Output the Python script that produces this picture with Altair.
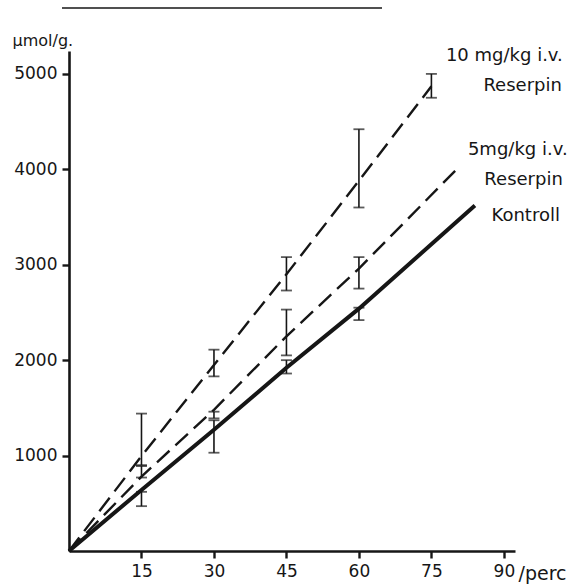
import altair as alt
import pandas as pd

# ---- data ----
ten_line_x = [0, 15, 30, 45, 60, 75]
ten_line_y = [0, 995, 1950, 2900, 3880, 4870]
five_line_x = [0, 15, 30, 45, 60, 81]
five_line_y = [0, 780, 1480, 2250, 2960, 4040]
kontroll_line_x = [0, 15, 30, 45, 60, 84]
kontroll_line_y = [0, 640, 1270, 1920, 2540, 3620]

ten_err_x = [15, 30, 45, 60, 75]
ten_err_low = [900, 1830, 2730, 3600, 4750]
ten_err_high = [1440, 2110, 3080, 4420, 5000]
five_err_x = [15, 30, 45, 60]
five_err_low = [770, 1390, 2050, 2750]
five_err_high = [890, 1460, 2530, 3080]
kontroll_err_x = [15, 30, 45, 60]
kontroll_err_low = [470, 1030, 1860, 2420]
kontroll_err_high = [620, 1370, 2000, 2550]

label_texts = ["10 mg/kg i.v.", "Reserpin", "5mg/kg i.v.", "Reserpin", "Kontroll"]
label_x = [102.2, 102.0, 103.2, 102.2, 101.6]
label_y = [5183, 4870, 4200, 3885, 3508]

x_ticks = [15, 30, 45, 60, 75, 90]
y_ticks = [1000, 2000, 3000, 4000, 5000]

FONT = "DejaVu Sans"
INK = "#161616"

def line_df(xs, ys, name):
    return pd.DataFrame({"perc": xs, "val": ys, "series": name})

def err_df(xs, lo, hi, name):
    return pd.DataFrame({"perc": xs, "lo": lo, "hi": hi, "series": name})

xs = alt.Scale(domain=[0, 92.3], nice=False, zero=True)
ys = alt.Scale(domain=[0, 5240], nice=False)

x_axis = alt.Axis(values=x_ticks, title="/perc", grid=False, domainWidth=2.6,
                  domainColor=INK, tickColor=INK, tickWidth=2.4, tickSize=7,
                  labelFont=FONT, labelFontSize=17, labelColor=INK, labelPadding=5,
                  titleFont=FONT, titleFontSize=19, titleFontWeight="normal",
                  titleColor=INK, titleX=449, titleY=28, titleAlign="left",
                  titleBaseline="alphabetic")
y_axis = alt.Axis(values=y_ticks, title="µmol/g.", format="d", grid=False, domainWidth=2.6,
                  domainColor=INK, tickColor=INK, tickWidth=2.4, tickSize=7,
                  labelFont=FONT, labelFontSize=17, labelColor=INK, labelPadding=5,
                  titleFont=FONT, titleFontSize=16, titleFontWeight="normal",
                  titleColor=INK, titleAngle=0, titleX=-57, titleY=-6,
                  titleAlign="left", titleBaseline="alphabetic")

def make_line(df, dash, width):
    kw = dict(color=INK, strokeWidth=width, strokeCap="butt")
    if dash:
        kw["strokeDash"] = dash
    return alt.Chart(df).mark_line(**kw).encode(
        x=alt.X("perc:Q", scale=xs, axis=x_axis),
        y=alt.Y("val:Q", scale=ys, axis=y_axis),
    )

def make_err(df):
    rule = alt.Chart(df).mark_rule(color=INK, strokeWidth=1.6).encode(
        x=alt.X("perc:Q", scale=xs), y=alt.Y("lo:Q", scale=ys), y2="hi:Q")
    cap_lo = alt.Chart(df).mark_tick(color=INK, orient="horizontal", size=11, thickness=1.8).encode(
        x=alt.X("perc:Q", scale=xs), y=alt.Y("lo:Q", scale=ys))
    cap_hi = alt.Chart(df).mark_tick(color=INK, orient="horizontal", size=11, thickness=1.8).encode(
        x=alt.X("perc:Q", scale=xs), y=alt.Y("hi:Q", scale=ys))
    return rule + cap_lo + cap_hi

ten = make_line(line_df(ten_line_x, ten_line_y, "10"), [17, 8], 2.4)
five = make_line(line_df(five_line_x, five_line_y, "5"), [17, 8], 2.4)
kon = make_line(line_df(kontroll_line_x, kontroll_line_y, "K"), None, 4)

errs = (make_err(err_df(ten_err_x, ten_err_low, ten_err_high, "10"))
        + make_err(err_df(five_err_x, five_err_low, five_err_high, "5"))
        + make_err(err_df(kontroll_err_x, kontroll_err_low, kontroll_err_high, "K")))

labels_df = pd.DataFrame({"perc": label_x, "val": label_y, "txt": label_texts})
labels = alt.Chart(labels_df).mark_text(font=FONT, fontSize=18, color=INK,
                                        align="right", baseline="middle").encode(
    x=alt.X("perc:Q", scale=xs), y=alt.Y("val:Q", scale=ys), text="txt:N")

top_rule = alt.Chart(pd.DataFrame({"a": [0]})).mark_rule(color=INK, strokeWidth=1.5).encode(
    x=alt.value(-7), x2=alt.value(313), y=alt.value(-43))

chart = alt.layer(ten, five, kon, errs, labels, top_rule).properties(
    width=446, height=500,
    autosize=alt.AutoSizeParams(type="none"),
    padding={"left": 69, "top": 51, "right": 64, "bottom": 33},
    background="white",
).configure_view(stroke=None)

chart.save("out.html", embed_options={"renderer": "svg", "actions": False})
